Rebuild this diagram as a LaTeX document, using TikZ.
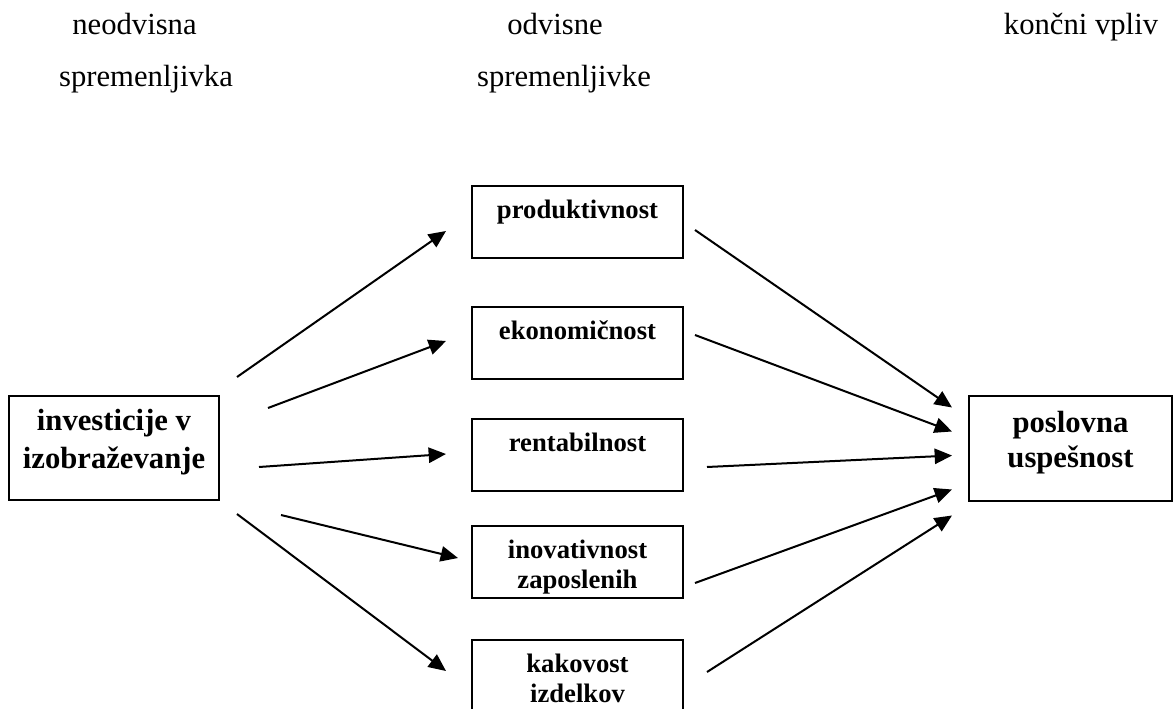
\documentclass[tikz,border=0pt]{standalone}
\usepackage{fontspec}
\setmainfont{Liberation Serif}
\usetikzlibrary{arrows.meta}

\newcommand{\gor}{\rule{0pt}{24pt}}
\newcommand{\dol}{\rule[-7pt]{0pt}{7pt}}

\tikzset{
  okvir/.style={draw, line width=1.5pt, inner sep=0pt, align=center},
  srednji/.style={okvir, minimum width=158.25pt, font=\fontsize{20pt}{22.5pt}\selectfont\bfseries},
  naslov/.style={anchor=base, font=\fontsize{23pt}{28pt}\selectfont},
  puscica/.style={-{Triangle[length=13pt,width=11.5pt]}, line width=1.5pt},
}

\begin{document}
\begin{tikzpicture}[x=0.75pt, y=-0.75pt]
    \useasboundingbox (0,0) rectangle (1173,709);

    % naslovi stolpcev
    \node[naslov] (neodv)  at (134.5,35) {neodvisna};
    \node[naslov] (sprem1) at (146,87)   {spremenljivka};
    \node[naslov] (odv)    at (555,35)   {odvisne};
    \node[naslov] (sprem2) at (564,87)   {spremenljivke};
    \node[naslov] (koncni) at (1081,35)  {končni vpliv};

    % okvirji
    \node[okvir, minimum width=157.5pt, font=\fontsize{23pt}{28.5pt}\selectfont\bfseries]
      (inv) at (114,448) {\rule{0pt}{25.5pt}investicije v\\izobraževanje\rule[-24pt]{0pt}{24pt}};
    \node[srednji] (prod) at (577.5,222) {\gor produktivnost\\\dol};
    \node[srednji] (ekon) at (577.5,343) {\gor ekonomičnost\\\dol};
    \node[srednji] (rent) at (577.5,455) {\gor rentabilnost\\\dol};
    \node[srednji] (inov) at (577.5,562) {\gor inovativnost\\zaposlenih\dol};
    \node[srednji] (kak)  at (577.5,676) {\gor kakovost\\izdelkov\dol};
    \node[okvir, minimum width=152.25pt, font=\fontsize{23pt}{26.25pt}\selectfont\bfseries]
      (usp) at (1070.5,448.5) {\rule{0pt}{27pt}poslovna\\uspešnost\rule[-25.5pt]{0pt}{25.5pt}};

    % puscice levo
    \draw[puscica] ([shift={(17,-18)}]inv.north east) -- ([shift={(-25,9)}]prod.west);
    \draw[puscica] ([shift={(48,13)}]inv.north east)  -- ([shift={(-25,-2)}]ekon.west);
    \draw[puscica] ([shift={(39,19)}]inv.east)        -- ([shift={(-25,-1)}]rent.west);
    \draw[puscica] ([shift={(61,14)}]inv.south east)  -- ([shift={(-13,-4)}]inov.west);
    \draw[puscica] ([shift={(17,13)}]inv.south east)  -- ([shift={(-25,-5)}]kak.west);

    % puscice desno
    \draw[puscica] ([shift={(11,8)}]prod.east)  -- ([shift={(-16,-41)}]usp.west);
    \draw[puscica] ([shift={(11,-8)}]ekon.east) -- ([shift={(-16,-17)}]usp.west);
    \draw[puscica] ([shift={(23,12)}]rent.east) -- ([shift={(-16,7)}]usp.west);
    \draw[puscica] ([shift={(11,21)}]inov.east) -- ([shift={(-16,41)}]usp.west);
    \draw[puscica] ([shift={(23,-4)}]kak.east)  -- ([shift={(-16,67)}]usp.west);
\end{tikzpicture}
\end{document}
